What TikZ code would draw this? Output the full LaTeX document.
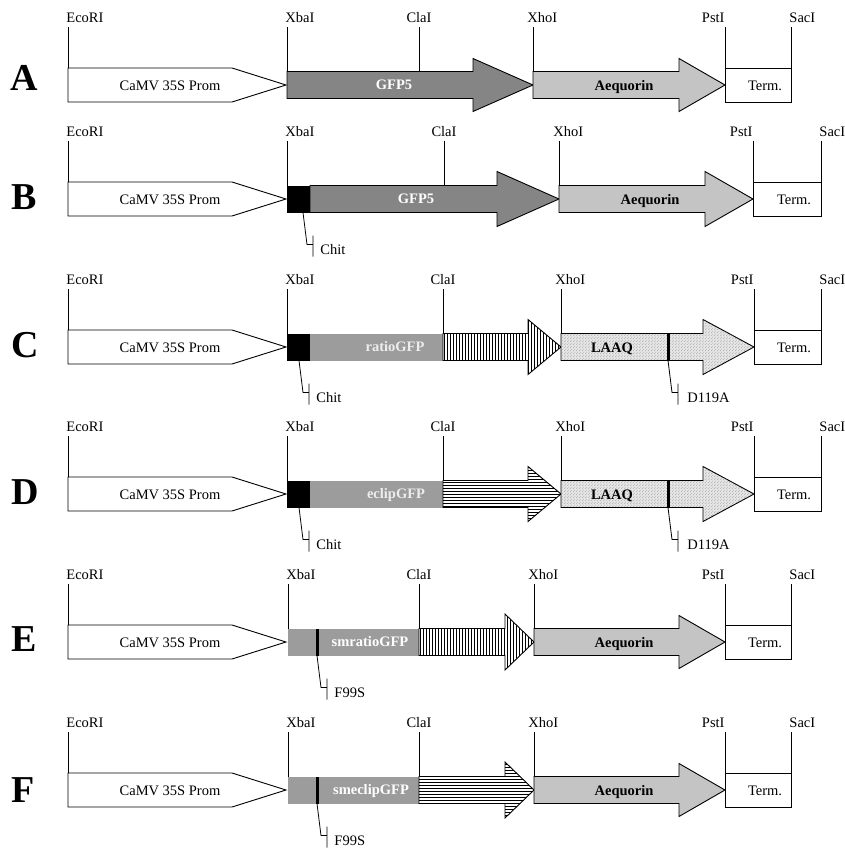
\documentclass[tikz,border=0pt]{standalone}
\usepackage{fontspec}
\setmainfont{Liberation Serif}
\usetikzlibrary{positioning}
\usetikzlibrary{patterns}

\definecolor{gfpgray}{HTML}{858585}
\definecolor{ratiogray}{HTML}{9C9C9C}
\definecolor{aeqgray}{HTML}{C4C4C4}
\definecolor{laaqgray}{HTML}{E4E4E4}

\pgfdeclarepatternformonly{vstripes}{\pgfpointorigin}{\pgfqpoint{1pt}{100pt}}{\pgfqpoint{3pt}{100pt}}{%
  \pgfsetlinewidth{0.9pt}\pgfpathmoveto{\pgfqpoint{0.5pt}{0pt}}\pgfpathlineto{\pgfqpoint{0.5pt}{100pt}}\pgfusepath{stroke}}
\pgfdeclarepatternformonly{hstripes}{\pgfpointorigin}{\pgfqpoint{100pt}{1pt}}{\pgfqpoint{100pt}{3pt}}{%
  \pgfsetlinewidth{0.9pt}\pgfpathmoveto{\pgfqpoint{0pt}{0.5pt}}\pgfpathlineto{\pgfqpoint{100pt}{0.5pt}}\pgfusepath{stroke}}
\pgfdeclarepatternformonly{stipple}{\pgfpointorigin}{\pgfqpoint{3pt}{3pt}}{\pgfqpoint{3pt}{3pt}}{%
  \pgfpathcircle{\pgfqpoint{0.7pt}{0.8pt}}{0.45pt}\pgfpathcircle{\pgfqpoint{2.2pt}{2.3pt}}{0.45pt}\pgfusepath{fill}}

\begin{document}
\begin{tikzpicture}[x=1pt, y=-1pt, line width=0.9pt,
    site/.style={font=\fontsize{14.5}{17}\selectfont, inner sep=0pt, yshift=4pt},
    txt/.style={font=\fontsize{14.5}{17}\selectfont, inner sep=0pt, anchor=base},
    btxt/.style={txt, font=\fontsize{14.5}{17}\selectfont\bfseries},
    note/.style={txt, anchor=base west},
    rowlab/.style={font=\fontsize{38}{40}\selectfont\bfseries, inner sep=0pt, anchor=west},
    promo/.style={draw, fill=white},
    gfp/.style={draw, fill=gfpgray},
    aeq/.style={draw, fill=aeqgray},
    vstr/.style={draw, fill=white, postaction={pattern=vstripes}},
    hstr/.style={draw, fill=white, postaction={pattern=hstripes}},
    laaq/.style={draw, fill=laaqgray, postaction={pattern=stipple, pattern color=gray}},
    lead/.style={line width=0.8pt}]
  \useasboundingbox (0,0) rectangle (844,849);

  % A
  \begin{scope}[shift={(0,85)}]
    \node[rowlab] (rowA) at (10,-7) {A};
    \foreach \n/\x/\b/\t/\a/\d in {ecoA/68/-17/EcoRI/south west/-2, xbaA/287/-13.5/XbaI/south west/-2,
        claA/419/-13.5/ClaI/south/0, xhoA/533/-13.5/XhoI/south west/-6,
        pstA/725/-17/PstI/south east/0, sacA/791/-17/SacI/south west/-2}{
      \coordinate (\n-t) at (\x,-58);
      \coordinate (\n-b) at (\x,\b);
      \node[site, anchor=\a, xshift=\d pt] (\n) at (\n-t) {\t};
      \draw (\n-t) -- (\n-b);
    }
    \draw[promo] (68,-17) -- (232,-17) -- (286,0) -- (232,17) -- (68,17) -- cycle;
    \draw[gfp] (287,-13.5) -- (473,-13.5) -- (473,-26.5) -- (533,0) -- (473,26.5) -- (473,13.5) -- (287,13.5) -- cycle;
    \draw[aeq] (533,-13.5) -- (679,-13.5) -- (679,-26.5) -- (725,0) -- (679,26.5) -- (679,13.5) -- (533,13.5) -- cycle;
    \draw (725,-17) rectangle (791,17);
    \node[txt] (promA) at (170,5) {CaMV 35S Prom};
    \node[btxt, text=white] (gfpA) at (394,4.5) {GFP5};
    \node[btxt] (aeqA) at (624,5) {Aequorin};
    \node[txt] (termA) at (765,5) {Term.};
  \end{scope}

  % B
  \begin{scope}[shift={(0,199)}]
    \node[rowlab] (rowB) at (11,-2) {B};
    \foreach \n/\x/\b/\t/\a/\d in {ecoB/68/-17/EcoRI/south west/-2, xbaB/287/-13.5/XbaI/south west/-2,
        claB/444/-13.5/ClaI/south/0, xhoB/559/-13.5/XhoI/south west/-6,
        pstB/753/-17/PstI/south east/0, sacB/821/-17/SacI/south west/-2}{
      \coordinate (\n-t) at (\x,-58);
      \coordinate (\n-b) at (\x,\b);
      \node[site, anchor=\a, xshift=\d pt] (\n) at (\n-t) {\t};
      \draw (\n-t) -- (\n-b);
    }
    \draw[promo] (68,-17) -- (232,-17) -- (286,0) -- (232,17) -- (68,17) -- cycle;
    \fill (287,-13.5) rectangle (310,13.5);
    \draw[gfp] (310,-13.5) -- (497,-13.5) -- (497,-27.5) -- (559,0) -- (497,27.5) -- (497,13.5) -- (310,13.5) -- cycle;
    \draw[aeq] (559,-13.5) -- (705,-13.5) -- (705,-27.5) -- (753,0) -- (705,27.5) -- (705,13.5) -- (559,13.5) -- cycle;
    \draw (753,-17) rectangle (821,17);
    \node[txt] (promB) at (170,5) {CaMV 35S Prom};
    \node[btxt, text=white] (gfpB) at (416,4.5) {GFP5};
    \node[btxt] (aeqB) at (650,5) {Aequorin};
    \node[txt] (termB) at (794,5) {Term.};
    \coordinate (chitB) at (303,13.5);
    \node[note] (chitBl) at (320,55) {Chit};
    \draw[lead] (chitB) -- ++(4,32) -- ++(6,0) ++(0,-9) -- ++(0,21);
  \end{scope}

  % C
  \begin{scope}[shift={(0,347)}]
    \node[rowlab] (rowC) at (11,-2) {C};
    \foreach \n/\x/\b/\t/\a/\d in {ecoC/68/-17/EcoRI/south west/-2, xbaC/287/-13.5/XbaI/south west/-2,
        claC/443/-13.5/ClaI/south/0, xhoC/561/-13.5/XhoI/south west/-6,
        pstC/754/-17/PstI/south east/0, sacC/821/-17/SacI/south west/-2}{
      \coordinate (\n-t) at (\x,-58);
      \coordinate (\n-b) at (\x,\b);
      \node[site, anchor=\a, xshift=\d pt] (\n) at (\n-t) {\t};
      \draw (\n-t) -- (\n-b);
    }
    \draw[promo] (68,-17) -- (232,-17) -- (286,0) -- (232,17) -- (68,17) -- cycle;
    \fill (287,-13.5) rectangle (310,13.5);
    \fill[ratiogray] (310,-13.5) rectangle (443,13.5);
    \draw[vstr] (443,-13.5) -- (528,-13.5) -- (528,-27.5) -- (561,0) -- (528,27.5) -- (528,13.5) -- (443,13.5) -- cycle;
    \draw[laaq] (561,-13.5) -- (703,-13.5) -- (703,-27.5) -- (754,0) -- (703,27.5) -- (703,13.5) -- (561,13.5) -- cycle;
    \fill (666.5,-13.5) rectangle (669.5,13.5);
    \draw (754,-17) rectangle (821,17);
    \node[txt] (promC) at (170,5) {CaMV 35S Prom};
    \node[btxt, text=white!93!black] (ratioC) at (395,4.5) {ratioGFP};
    \node[btxt] (laaqC) at (612,5) {LAAQ};
    \node[txt] (termC) at (794,5) {Term.};
    \coordinate (chitC) at (299,13.5);
    \node[note] (chitCl) at (316,55) {Chit};
    \draw[lead] (chitC) -- ++(4,32) -- ++(6,0) ++(0,-9) -- ++(0,21);
    \coordinate (mutC) at (668,13.5);
    \node[note] (mutCl) at (687,55) {D119A};
    \draw[lead] (mutC) -- ++(4,32) -- ++(6,0) ++(0,-9) -- ++(0,21);
  \end{scope}

  % D
  \begin{scope}[shift={(0,494)}]
    \node[rowlab] (rowD) at (11,-2) {D};
    \foreach \n/\x/\b/\t/\a/\d in {ecoD/68/-17/EcoRI/south west/-2, xbaD/287/-13.5/XbaI/south west/-2,
        claD/443/-13.5/ClaI/south/0, xhoD/561/-13.5/XhoI/south west/-6,
        pstD/754/-17/PstI/south east/0, sacD/821/-17/SacI/south west/-2}{
      \coordinate (\n-t) at (\x,-58);
      \coordinate (\n-b) at (\x,\b);
      \node[site, anchor=\a, xshift=\d pt] (\n) at (\n-t) {\t};
      \draw (\n-t) -- (\n-b);
    }
    \draw[promo] (68,-17) -- (232,-17) -- (286,0) -- (232,17) -- (68,17) -- cycle;
    \fill (287,-13.5) rectangle (310,13.5);
    \fill[ratiogray] (310,-13.5) rectangle (443,13.5);
    \draw[hstr] (443,-13.5) -- (528,-13.5) -- (528,-27.5) -- (561,0) -- (528,27.5) -- (528,13.5) -- (443,13.5) -- cycle;
    \draw[laaq] (561,-13.5) -- (703,-13.5) -- (703,-27.5) -- (754,0) -- (703,27.5) -- (703,13.5) -- (561,13.5) -- cycle;
    \fill (666.5,-13.5) rectangle (669.5,13.5);
    \draw (754,-17) rectangle (821,17);
    \node[txt] (promD) at (170,5) {CaMV 35S Prom};
    \node[btxt, text=white!93!black] (eclipD) at (396,4.5) {eclipGFP};
    \node[btxt] (laaqD) at (612,5) {LAAQ};
    \node[txt] (termD) at (794,5) {Term.};
    \coordinate (chitD) at (299,13.5);
    \node[note] (chitDl) at (316,55) {Chit};
    \draw[lead] (chitD) -- ++(4,32) -- ++(6,0) ++(0,-9) -- ++(0,21);
    \coordinate (mutD) at (668,13.5);
    \node[note] (mutDl) at (687,55) {D119A};
    \draw[lead] (mutD) -- ++(4,32) -- ++(6,0) ++(0,-9) -- ++(0,21);
  \end{scope}

  % E
  \begin{scope}[shift={(0,642)}]
    \node[rowlab] (rowE) at (11,-3) {E};
    \foreach \n/\x/\b/\t/\a/\d in {ecoE/68/-17/EcoRI/south west/-2, xbaE/288/-13.5/XbaI/south west/-2,
        claE/419/-13.5/ClaI/south/0, xhoE/534/-13.5/XhoI/south west/-6,
        pstE/725/-17/PstI/south east/0, sacE/791/-17/SacI/south west/-2}{
      \coordinate (\n-t) at (\x,-58);
      \coordinate (\n-b) at (\x,\b);
      \node[site, anchor=\a, xshift=\d pt] (\n) at (\n-t) {\t};
      \draw (\n-t) -- (\n-b);
    }
    \draw[promo] (68,-17) -- (232,-17) -- (286,0) -- (232,17) -- (68,17) -- cycle;
    \fill[ratiogray] (288,-13.5) rectangle (419,13.5);
    \fill (315.5,-13.5) rectangle (318.5,13.5);
    \draw[vstr] (419,-13.5) -- (505,-13.5) -- (505,-28) -- (534,0) -- (505,28) -- (505,13.5) -- (419,13.5) -- cycle;
    \draw[aeq] (534,-13.5) -- (679,-13.5) -- (679,-26.5) -- (725,0) -- (679,26.5) -- (679,13.5) -- (534,13.5) -- cycle;
    \draw (725,-17) rectangle (791,17);
    \node[txt] (promE) at (170,5) {CaMV 35S Prom};
    \node[btxt, text=white] (smratioE) at (370,4.5) {smratioGFP};
    \node[btxt] (aeqE) at (624,5) {Aequorin};
    \node[txt] (termE) at (765,5) {Term.};
    \coordinate (mutE) at (317,13.5);
    \node[note] (mutEl) at (334,55) {F99S};
    \draw[lead] (mutE) -- ++(4,32) -- ++(6,0) ++(0,-9) -- ++(0,21);
  \end{scope}

  % F
  \begin{scope}[shift={(0,790)}]
    \node[rowlab] (rowF) at (11,0) {F};
    \foreach \n/\x/\b/\t/\a/\d in {ecoF/68/-17/EcoRI/south west/-2, xbaF/288/-13.5/XbaI/south west/-2,
        claF/419/-13.5/ClaI/south/0, xhoF/534/-13.5/XhoI/south west/-6,
        pstF/725/-17/PstI/south east/0, sacF/791/-17/SacI/south west/-2}{
      \coordinate (\n-t) at (\x,-58);
      \coordinate (\n-b) at (\x,\b);
      \node[site, anchor=\a, xshift=\d pt] (\n) at (\n-t) {\t};
      \draw (\n-t) -- (\n-b);
    }
    \draw[promo] (68,-17) -- (232,-17) -- (286,0) -- (232,17) -- (68,17) -- cycle;
    \fill[ratiogray] (288,-13.5) rectangle (419,13.5);
    \fill (315.5,-13.5) rectangle (318.5,13.5);
    \draw[hstr] (419,-13.5) -- (505,-13.5) -- (505,-28) -- (534,0) -- (505,28) -- (505,13.5) -- (419,13.5) -- cycle;
    \draw[aeq] (534,-13.5) -- (679,-13.5) -- (679,-26.5) -- (725,0) -- (679,26.5) -- (679,13.5) -- (534,13.5) -- cycle;
    \draw (725,-17) rectangle (791,17);
    \node[txt] (promF) at (170,5) {CaMV 35S Prom};
    \node[btxt, text=white] (smeclipF) at (371,4.5) {smeclipGFP};
    \node[btxt] (aeqF) at (624,5) {Aequorin};
    \node[txt] (termF) at (765,5) {Term.};
    \coordinate (mutF) at (317,13.5);
    \node[note] (mutFl) at (334,55) {F99S};
    \draw[lead] (mutF) -- ++(4,32) -- ++(6,0) ++(0,-9) -- ++(0,21);
  \end{scope}
\end{tikzpicture}
\end{document}
